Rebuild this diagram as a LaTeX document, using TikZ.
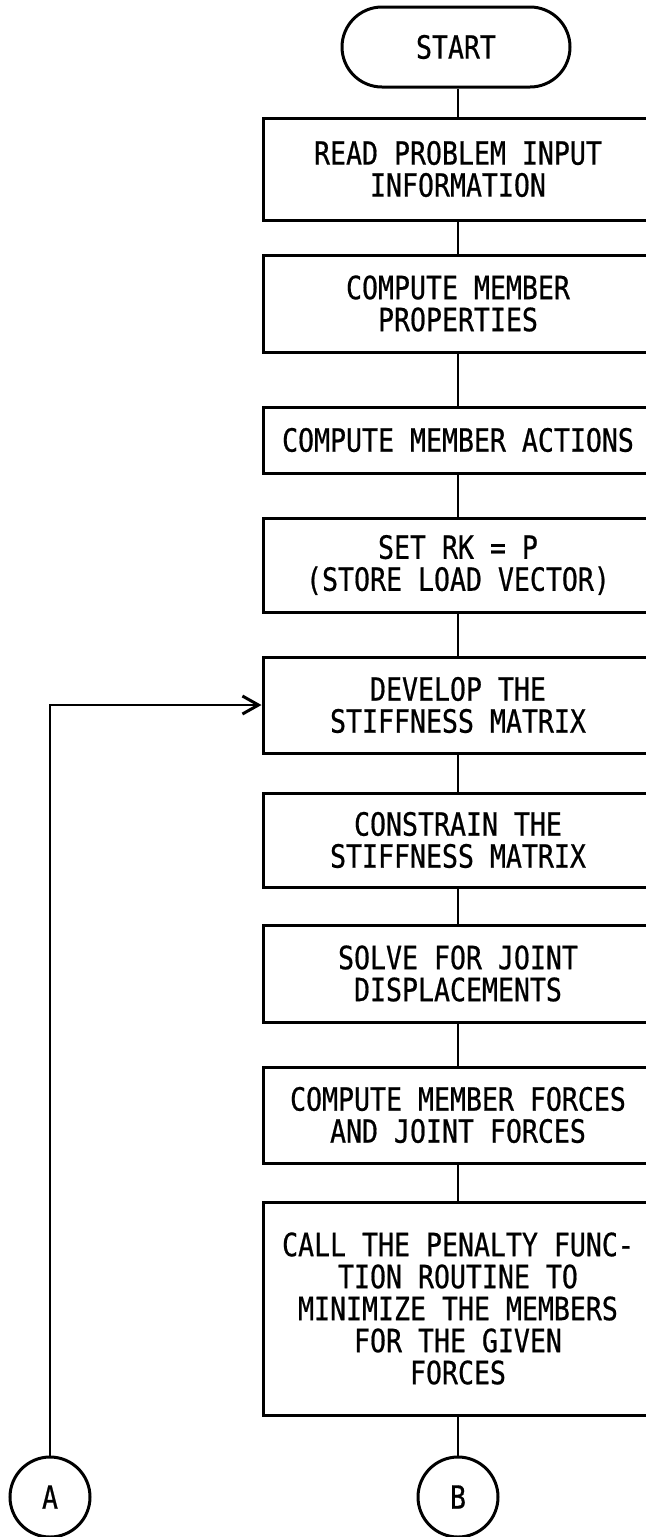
\documentclass[tikz,border=0pt]{standalone}
\usepackage{fontspec}
\newfontfamily\chartfont{DejaVu Sans Mono}[FakeStretch=0.83, FakeBold=0.6]
\usepackage{tikz}
\usetikzlibrary{arrows.meta, positioning, calc}
\tikzset{
  flowbox/.style={
    draw, line width=1.5pt, align=center, fill=white,
    minimum width=195pt, inner sep=2pt,
    font=\chartfont\fontsize{16}{16}\selectfont
  },
  flowstart/.style={
    draw, line width=1.5pt, rounded corners=20pt, align=center,
    minimum width=114pt, minimum height=40pt,
    font=\chartfont\fontsize{16}{16}\selectfont
  },
  flowconn/.style={
    draw, circle, line width=1.5pt, minimum size=40pt, inner sep=0pt,
    font=\chartfont\fontsize{16}{16}\selectfont
  },
  flowline/.style={line width=1pt},
  flowarrow/.style={
    -{Straight Barb[length=8pt, width=9pt, line width=1.5pt]}, line width=1pt
  },
}
\begin{document}
\begin{tikzpicture}[x=0.5pt, y=-0.5pt]
  \clip (0,0) rectangle (646,1537);

  % Start
  \node[flowstart] (start) at (456,47) {START};

  % Main column
  \node[flowbox, minimum height=51pt] (read) at (458,169) {
    READ PROBLEM INPUT\\INFORMATION};
  \node[flowbox, minimum height=48.5pt] (props) at (458,303.5) {
    COMPUTE MEMBER\\PROPERTIES};
  \node[flowbox, minimum height=33pt] (actions) at (458,440) {
    COMPUTE MEMBER ACTIONS};
  \node[flowbox, minimum height=47pt] (setrk) at (458,565) {
    SET RK = P\\(STORE LOAD VECTOR)};
  \node[flowbox, minimum height=48pt] (develop) at (458,705) {
    DEVELOP THE\\STIFFNESS MATRIX};
  \node[flowbox, minimum height=47pt] (constrain) at (458,840) {
    CONSTRAIN THE\\STIFFNESS MATRIX};
  \node[flowbox, minimum height=48.5pt] (solve) at (458,973.5) {
    SOLVE FOR JOINT\\DISPLACEMENTS};
  \node[flowbox, minimum height=48pt] (forces) at (458,1115) {
    COMPUTE MEMBER FORCES\\AND JOINT FORCES};
  \node[flowbox, minimum height=106.5pt] (penalty) at (458,1308.5) {
    CALL THE PENALTY FUNC-\\TION ROUTINE TO\\MINIMIZE THE MEMBERS\\
    FOR THE GIVEN\\FORCES};

  % Connectors
  \node[flowconn] (conB) at (458,1497) {B};
  \node[flowconn] (conA) at (50,1497) {A};

  % Flow lines
  \draw[flowline] (start.south -| read.north) -- (read);
  \draw[flowline] (read) -- (props);
  \draw[flowline] (props) -- (actions);
  \draw[flowline] (actions) -- (setrk);
  \draw[flowline] (setrk) -- (develop);
  \draw[flowline] (develop) -- (constrain);
  \draw[flowline] (constrain) -- (solve);
  \draw[flowline] (solve) -- (forces);
  \draw[flowline] (forces) -- (penalty);
  \draw[flowline] (penalty) -- (conB);

  % Loop back from A
  \draw[flowarrow] (conA.north) |- (develop.west);
\end{tikzpicture}
\end{document}
